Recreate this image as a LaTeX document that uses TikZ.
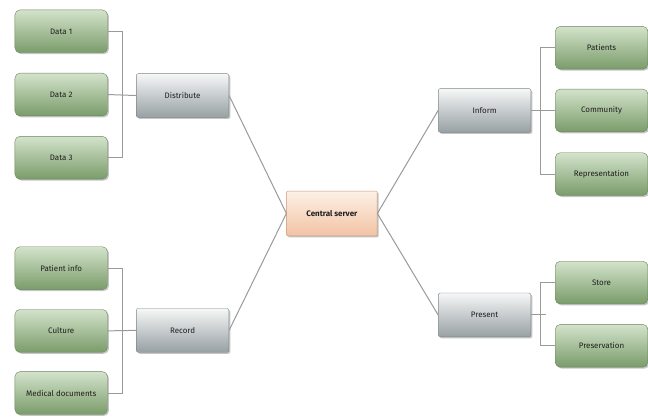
\documentclass[tikz,border=0pt]{standalone}
\usepackage{fontspec}
\setmainfont{Fira Sans}
\usetikzlibrary{shadows}
\definecolor{Ink}{HTML}{1F1F1F}
\definecolor{Wire}{HTML}{9A9A9A}
\definecolor{LeafTop}{HTML}{D3E3CB}
\definecolor{LeafBot}{HTML}{7A9C6A}
\definecolor{LeafEdge}{HTML}{6A865E}
\definecolor{HubTop}{HTML}{F6F7F7}
\definecolor{HubBot}{HTML}{97A0A3}
\definecolor{HubEdge}{HTML}{7E868A}
\definecolor{CoreTop}{HTML}{FDF0E6}
\definecolor{CoreBot}{HTML}{F2C3A4}
\definecolor{CoreEdge}{HTML}{C99C80}

\begin{document}
\begin{tikzpicture}[x=1pt,y=-1pt,every node/.style={text=Ink,font=\fontsize{8}{9.5}\selectfont}]
  \tikzset{
    leaf/.style={rounded corners=5pt,minimum width=93pt,minimum height=43pt,inner sep=0pt,
      top color=LeafTop,bottom color=LeafBot,draw=LeafEdge,line width=0.4pt,
      drop shadow={shadow xshift=1.5pt,shadow yshift=-1.5pt,opacity=0.45}},
    hub/.style={rounded corners=2pt,minimum width=93pt,minimum height=44pt,inner sep=0pt,
      top color=HubTop,bottom color=HubBot,draw=HubEdge,line width=0.4pt,
      drop shadow={shadow xshift=1.5pt,shadow yshift=-1.5pt,opacity=0.45}},
    core/.style={rounded corners=1pt,minimum width=91pt,minimum height=45pt,inner sep=0pt,
      top color=CoreTop,bottom color=CoreBot,draw=CoreEdge,line width=0.4pt,
      font=\fontsize{8}{9.5}\selectfont\bfseries,
      drop shadow={shadow xshift=1.5pt,shadow yshift=-1.5pt,opacity=0.45}},
    link/.style={draw=Wire,line width=1pt}
  }
  \fill[white] (0,0) rectangle (648,419);

  % centre
  \node[core] (server) at (333.5,214.5) {Central server};

  % hubs
  \node[hub] (distribute) at (183.5,96) {Distribute};
  \node[hub] (record) at (183.5,332) {Record};
  \node[hub] (inform) at (487,111) {Inform};
  \node[hub] (present) at (487,316.5) {Present};

  % leaves
  \foreach \name/\x/\y/\txt in {
    data1/61.5/31.5/Data 1,
    data2/61.5/95/Data 2,
    data3/61.5/158.5/Data 3,
    patinfo/61.5/269.5/Patient info,
    culture/61.5/332.5/Culture,
    meddocs/61.5/395/Medical documents,
    patients/604.5/48/Patients,
    community/604.5/111/Community,
    repres/604.5/175/Representation,
    store/604.5/284/Store,
    preserv/604.5/347.5/Preservation}{
      \node[leaf] (\name) at (\x,\y) {\txt};
  }

  \draw[link] (distribute.east) -- (server.west);
  \draw[link] (record.east) -- (server.west);
  \draw[link] (inform.west) -- (server.east);
  \draw[link] (present.west) -- (server.east);

  \draw[link] (data1.east) -- ++(15,0) |- (data3.east);
  \draw[link] (data2.east) -- (distribute.west);
  \draw[link] (patinfo.east) -- ++(15,0) |- (meddocs.east);
  \draw[link] (culture.east) -- (record.west);
  \draw[link] (patients.west) -- ++(-15,0) |- (repres.west);
  \draw[link] (inform.east) -- (community.west);
  \draw[link] (store.west) -- ++(-15,0) |- (preserv.west);
  \draw[link] (present.east) -- ++(15,0);
\end{tikzpicture}
\end{document}
